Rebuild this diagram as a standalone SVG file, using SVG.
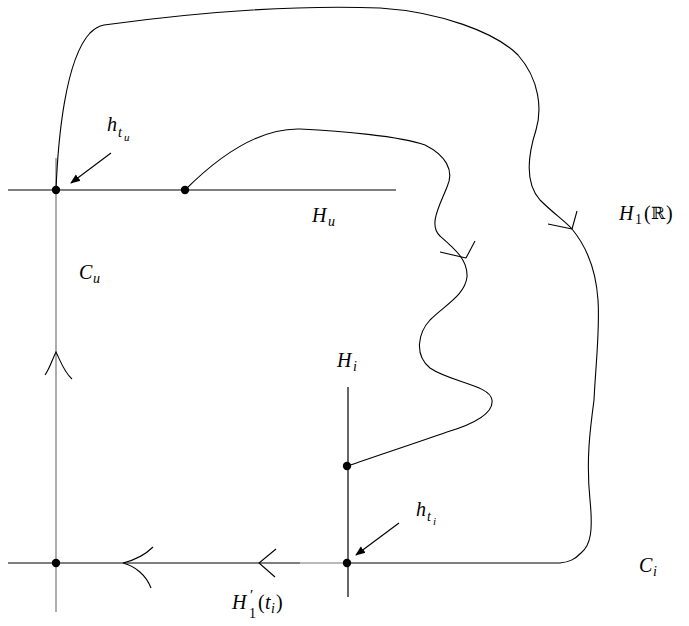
<svg xmlns="http://www.w3.org/2000/svg" width="689" height="626" viewBox="0 0 689 626">
<style>
.ln{stroke:#000;stroke-width:1.2;fill:none}
.gr{stroke:#777;stroke-width:1.2;fill:none}
.cv{stroke:#000;stroke-width:1.1;fill:none}
.ah{stroke:#000;stroke-width:1.1;fill:none}
.t{font-family:"Liberation Serif","DejaVu Serif",serif;font-style:italic;font-size:20px;fill:#000}
.s{font-family:"Liberation Serif","DejaVu Serif",serif;font-style:italic;font-size:14px;fill:#000}
.ss{font-family:"Liberation Serif","DejaVu Serif",serif;font-style:italic;font-size:11px;fill:#000}
.u{font-family:"Liberation Serif","DejaVu Serif",serif;font-size:20px;fill:#000}
.us{font-family:"Liberation Serif","DejaVu Serif",serif;font-size:14px;fill:#000}
.bb{font-family:"DejaVu Serif",serif;font-size:17px;fill:#000}
.dot{fill:#000}
</style>
<defs>
<marker id="tip" viewBox="0 0 10 10" refX="9" refY="5" markerWidth="10" markerHeight="10" markerUnits="userSpaceOnUse" orient="auto">
<path d="M0,1 L10,5 L0,9 Z" fill="#000"/>
</marker>
</defs>
<g id="connectors">
<line id="Hu-line" class="ln" x1="8" y1="190" x2="396" y2="190"/>
<line id="Cu-top" class="gr" x1="56" y1="158" x2="56" y2="190"/>
<line id="Cu-line" class="gr" x1="56" y1="190" x2="56" y2="612"/>
<line id="H1prime-line" class="ln" x1="8" y1="563" x2="300" y2="563"/>
<line id="H1prime-line2" class="gr" x1="300" y1="563" x2="348" y2="563"/>
<line id="Hi-line" class="ln" x1="348" y1="387" x2="348" y2="597"/>
<path id="outer-curve" class="cv" d="M56,190 C58,140 65,60 90,33 C95,28 99,26 104,25 C200,12 300,5 380,8 C440,12 495,32 518,55 C540,80 542,110 536,130 C528,155 524,182 540,200 C553,213 566,222 572,229 C586,246 596,270 598,300 C600,330 596,360 594,400 C590,430 586,460 590,500 C593,530 591,545 581,553 C575,559 570,562 560,563 L348,563"/>
<path id="inner-curve" class="cv" d="M185,190 C220,155 260,128 300,129 C340,131 400,136 425,145 C445,155 455,170 447,187 C440,205 428,225 440,236 C455,249 468,260 467,277 C465,295 445,305 430,320 C418,333 414,355 430,368 C450,382 490,385 492,400 C494,415 470,425 447,432 C410,445 370,458 348,466"/>
<path id="arrow-inner" class="ah" d="M440,252 L466,258 M475,241 L466,258"/>
<path id="arrow-outer" class="ah" d="M548,224 L572,229 M577,211 L572,229"/>
<path id="arrow-Cu" class="ah" d="M45,375 C50,368 52,360 56,352 C60,360 64,372 72,379"/>
<path id="arrow-bottom1" class="ah" d="M153,547 C145,555 135,560 123,563 C135,566 146,575 151,588"/>
<path id="arrow-bottom2" class="ah" d="M276,549 L259,563 L275,577"/>
<line id="htu-arrow" class="ah" x1="111" y1="153" x2="71" y2="183" marker-end="url(#tip)"/>
<line id="hti-arrow" class="ah" x1="399" y1="523" x2="356" y2="555" marker-end="url(#tip)"/>
</g>
<g id="node-htu-point"><circle class="dot" cx="56" cy="190" r="4.2"/></g>
<g id="node-hu-start"><circle class="dot" cx="185" cy="190" r="4.2"/></g>
<g id="node-hi-end"><circle class="dot" cx="347" cy="466" r="4.2"/></g>
<g id="node-hti-point"><circle class="dot" cx="347" cy="563" r="4.2"/></g>
<g id="node-corner"><circle class="dot" cx="56" cy="563" r="4.2"/></g>
<g id="label-htu"><text class="t" x="107" y="131">h</text><text class="s" x="118" y="137">t</text><text class="ss" x="124" y="141">u</text></g>
<g id="label-Hu"><text class="t" x="312" y="222">H</text><text class="s" x="328" y="226">u</text></g>
<g id="label-Cu"><text class="t" x="79" y="279">C</text><text class="s" x="93" y="283">u</text></g>
<g id="label-H1R"><text class="t" x="619" y="220">H</text><text class="us" x="635" y="224">1</text><text class="u" x="644" y="220">(</text><text class="bb" x="651" y="219">ℝ</text><text class="u" x="666" y="220">)</text></g>
<g id="label-Hi"><text class="t" x="337" y="367">H</text><text class="s" x="353" y="371">i</text></g>
<g id="label-hti"><text class="t" x="416" y="516">h</text><text class="s" x="427" y="521">t</text><text class="ss" x="433" y="525">i</text></g>
<g id="label-H1prime"><text class="t" x="232" y="609">H</text><text class="u" x="250" y="600" style="font-size:15px">′</text><text class="us" x="249" y="618">1</text><text class="u" x="258" y="609">(</text><text class="t" x="265" y="609">t</text><text class="s" x="271" y="613">i</text><text class="u" x="276" y="609">)</text></g>
<g id="label-Ci"><text class="t" x="639" y="572">C</text><text class="s" x="653" y="576">i</text></g>
</svg>
